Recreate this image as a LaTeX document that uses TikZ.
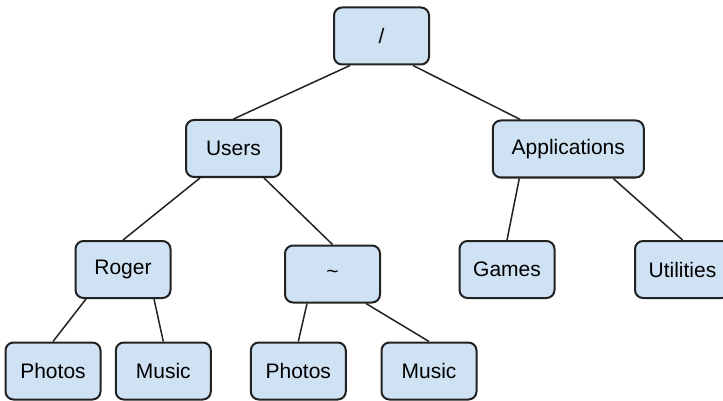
\documentclass[tikz,border=0pt]{standalone}
\usepackage{fontspec}
\setmainfont{Liberation Sans}
\usepackage{tikz}
\usetikzlibrary{positioning}
\definecolor{boxfill}{HTML}{CFE2F3}
\definecolor{boxline}{HTML}{222222}
\tikzstyle{edge} = [draw, line width=0.75pt, boxline]
\tikzstyle{folder} = [draw=boxline, fill=boxfill, line width=1pt, rectangle, rounded corners=4pt, text centered, minimum width=47.5pt, minimum height=28.5pt, inner xsep=5pt, font=\fontsize{10.5}{12}\selectfont]

\begin{document}
\begin{tikzpicture}[on grid, auto]
        \useasboundingbox (0,0) rectangle (361.5pt,-200.5pt);
        \node[folder] (root) at (190.75pt,-18pt) {/};
        \node[folder, below left=56.25pt and 74pt of root] (users) {Users};
        \node[folder, minimum width=75.5pt, below right=56.5pt and 93.4pt of root] (apps) {Applications};
        \node[folder, below left=60.5pt and 55.25pt of users] (roger) {Roger};
        \node[folder, below right=62.75pt and 49.5pt of users] (home) {\raisebox{-2.5pt}{\textasciitilde}};
        \node[folder, below left=60.25pt and 30.65pt of apps] (games) {Games};
        \node[folder, below right=60.25pt and 57.1pt of apps] (utils) {Utilities};
        \node[folder, below left=50.75pt and 35pt of roger] (rphotos) {Photos};
        \node[folder, below right=50.75pt and 20.15pt of roger] (rmusic) {Music};
        \node[folder, below left=48.5pt and 17.1pt of home] (hphotos) {Photos};
        \node[folder, below right=48.5pt and 48.25pt of home] (hmusic) {Music};
        \path[edge] ([xshift=-15.75pt]root.south) -- (users.north);
        \path[edge] ([xshift=15.75pt]root.south) -- ([xshift=-24pt]apps.north);
        \path[edge] ([xshift=-16.75pt]users.south) -- (roger.north);
        \path[edge] ([xshift=15.25pt]users.south) -- (home.north);
        \path[edge] ([xshift=-24.5pt]apps.south) -- (games.north);
        \path[edge] ([xshift=22.5pt]apps.south) -- (utils.north);
        \path[edge] ([xshift=-18.5pt]roger.south) -- (rphotos.north);
        \path[edge] ([xshift=15.5pt]roger.south) -- (rmusic.north);
        \path[edge] ([xshift=-12.75pt]home.south) -- (hphotos.north);
        \path[edge] ([xshift=16.75pt]home.south) -- (hmusic.north);
    \end{tikzpicture}
\end{document}
